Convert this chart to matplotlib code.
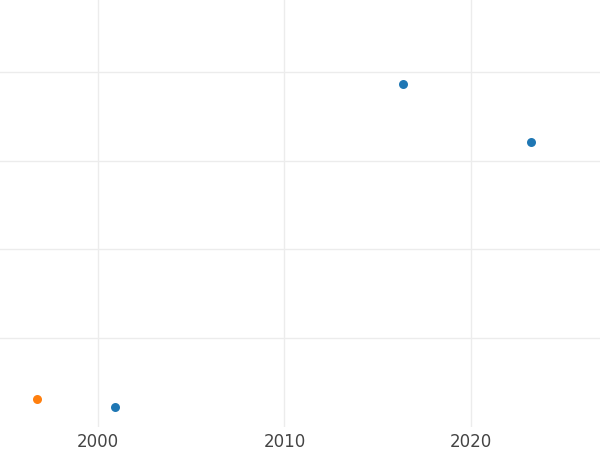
import matplotlib.pyplot as plt

# Data
blue_years = [2000.94, 2016.35, 2023.22]
blue_values = [0.22, 3.86, 3.21]
orange_years = [1996.73]
orange_values = [0.32]

x_ticks = [2000, 2010, 2020]
x_labels = ['2000', '2010', '2020']
y_ticks = [1, 2, 3, 4]

fig = plt.figure(figsize=(6, 4.5), dpi=100)
ax = fig.add_axes([0, 0.0511, 1, 0.9489])

ax.scatter(blue_years, blue_values, s=42, color='#1f77b4', zorder=3, linewidths=0)
ax.scatter(orange_years, orange_values, s=42, color='#ff7f0e', zorder=3, linewidths=0)

ax.set_xlim(1994.75, 2026.92)
ax.set_ylim(0, 4.81)
ax.set_xticks(x_ticks)
ax.set_xticklabels(x_labels)
ax.set_yticks(y_ticks)
ax.set_yticklabels([])

ax.grid(True, color='#ececec', linewidth=1.0)
ax.set_axisbelow(True)
for s in ax.spines.values():
    s.set_visible(False)
ax.tick_params(axis='both', length=0, labelsize=12, labelcolor='#444444', pad=4)

fig.savefig('out.png', dpi=100)
